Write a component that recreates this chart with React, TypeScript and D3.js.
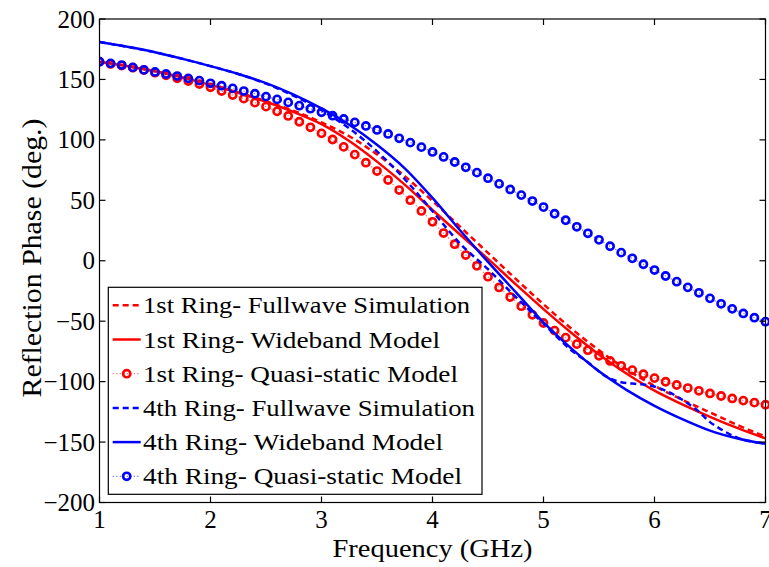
import React from "react";
import * as d3 from "d3";

// Frequency grids (GHz)
const freqLine = [1, 1.25, 1.5, 1.75, 2, 2.25, 2.5, 2.75, 3, 3.25, 3.5, 3.75, 4, 4.25, 4.5, 4.75, 5, 5.25, 5.5, 5.75, 6, 6.25, 6.5, 6.75, 7];
const freqFull4 = [1, 1.25, 1.5, 1.75, 2, 2.25, 2.5, 2.75, 3, 3.25, 3.5, 3.75, 4, 4.25, 4.5, 4.75, 5, 5.25, 5.4, 5.55, 5.7, 5.85, 5.95, 6.1, 6.25, 6.4, 6.5, 6.6, 6.75, 7];
const freqQuasi = [
  1.0, 1.1, 1.2, 1.3, 1.4, 1.5, 1.6, 1.7, 1.8, 1.9,
  2.0, 2.1, 2.2, 2.3, 2.4, 2.5, 2.6, 2.7, 2.8, 2.9,
  3.0, 3.1, 3.2, 3.3, 3.4, 3.5, 3.6, 3.7, 3.8, 3.9,
  4.0, 4.1, 4.2, 4.3, 4.4, 4.5, 4.6, 4.7, 4.8, 4.9,
  5.0, 5.1, 5.2, 5.3, 5.4, 5.5, 5.6, 5.7, 5.8, 5.9,
  6.0, 6.1, 6.2, 6.3, 6.4, 6.5, 6.6, 6.7, 6.8, 6.9, 7.0,
];

// Reflection phase (deg.)
const ring1Fullwave = [164.5, 161, 156.8, 151.5, 145.7, 139.3, 132, 124, 114.5, 103, 88, 70, 49.5, 28, 6.5, -15, -36, -56, -74, -90, -103.5, -115, -125.5, -136, -145.5];
const ring1Wideband = [164.7, 161, 156.8, 151.5, 145.5, 139, 131.5, 123, 113, 99, 82, 63, 42, 21.5, 1.5, -19.5, -40, -59.5, -77.5, -93.5, -107.5, -118.8, -129.1, -138.5, -147];
const ring1Quasi = [
  164.7, 162.8, 161.4, 159.7, 157.8, 155.6, 153.4, 150.9, 148.7, 146.2,
  143.5, 140.4, 137.1, 134.1, 130.8, 127.5, 123.6, 119.8, 115.0, 110.4,
  105.4, 100.3, 94.2, 87.8, 81.1, 74.2, 66.8, 58.5, 50.1, 41.2,
  32.2, 22.9, 13.7, 4.7, -4.2, -13.2, -22.1, -30.0, -37.6, -44.7,
  -51.5, -57.8, -63.6, -69.0, -74.0, -78.6, -82.9, -86.9, -90.5, -93.9,
  -97.1, -100.1, -102.8, -105.3, -107.6, -109.8, -111.9, -113.9, -115.7, -117.4, -119.1,
];
const ring4Fullwave = [181, 177, 172.5, 167, 161, 154.5, 146.5, 136.5, 124.5, 109.5, 90.5, 67.5, 41, 14, -7, -30, -52, -74, -84, -95, -100.5, -102, -103, -107.5, -115, -125, -133.5, -139.5, -146.5, -151];
const ring4Wideband = [181, 177, 172.5, 167, 161, 154.5, 147, 137.5, 126, 112.5, 96, 76.5, 52, 25, -1, -26, -51, -72.5, -91.5, -107, -120, -131, -140.5, -147, -151.5];
const ring4Quasi = [
  164.7, 163.3, 161.9, 160.0, 157.9, 156.2, 154.5, 152.8, 150.9, 149.0,
  146.8, 144.8, 142.6, 140.4, 138.2, 135.8, 133.5, 131.0, 128.3, 125.8,
  122.8, 120.0, 117.3, 114.5, 111.5, 108.2, 104.9, 101.3, 97.7, 94.0,
  90.0, 85.9, 81.7, 77.3, 72.9, 68.3, 63.6, 59.0, 54.3, 49.4,
  44.4, 38.9, 33.5, 28.1, 22.7, 17.3, 12.0, 6.7, 2.0, -2.9,
  -7.7, -12.6, -17.3, -22.0, -26.5, -31.1, -35.6, -39.8, -43.6, -47.1, -50.4,
];

const xTicks = [1, 2, 3, 4, 5, 6, 7];
const yTicks = [200, 150, 100, 50, 0, -50, -100, -150, -200];

const legendLabels = [
  "1st Ring- Fullwave Simulation",
  "1st Ring- Wideband Model",
  "1st Ring- Quasi-static Model",
  "4th Ring- Fullwave Simulation",
  "4th Ring- Wideband Model",
  "4th Ring- Quasi-static Model",
];
const legendWidths = [327, 297, 315, 332, 300, 319];

const RED = "#ff0000";
const BLUE = "#0000ff";
const FONT = '"Liberation Serif", "Times New Roman", Times, serif';

type Style = "dash" | "solid" | "marker";
interface Series {
  freq: number[];
  values: number[];
  color: string;
  style: Style;
}

const series: Series[] = [
  { freq: freqLine, values: ring1Fullwave, color: RED, style: "dash" },
  { freq: freqLine, values: ring1Wideband, color: RED, style: "solid" },
  { freq: freqQuasi, values: ring1Quasi, color: RED, style: "marker" },
  { freq: freqFull4, values: ring4Fullwave, color: BLUE, style: "dash" },
  { freq: freqLine, values: ring4Wideband, color: BLUE, style: "solid" },
  { freq: freqQuasi, values: ring4Quasi, color: BLUE, style: "marker" },
];

const W = 769;
const H = 567;
const plot = { left: 99.5, right: 765.5, top: 19, bottom: 502.5 };

const x = d3.scaleLinear().domain([1, 7]).range([plot.left, plot.right]);
const y = d3.scaleLinear().domain([-200, 200]).range([plot.bottom, plot.top]);
const fmt = d3.format("d");

const LW = 2.5;
const R = 3.6;
const TICK = 6;

function lineStroke(s: Series) {
  if (s.style === "dash") return { strokeWidth: LW, strokeDasharray: "6,4" };
  if (s.style === "solid") return { strokeWidth: LW };
  return { strokeWidth: 1.3, strokeDasharray: "1.3,2.2", strokeOpacity: 0.5 };
}

export default function App() {
  const lineGen = (s: Series) =>
    d3
      .line<number>()
      .x((_, i) => x(s.freq[i]))
      .y((v) => y(v))
      .curve(s.style === "marker" ? d3.curveLinear : d3.curveMonotoneX)(s.values) || "";

  const legend = { x0: 108.3, y0: 287.3, x1: 482, y1: 494.3 };
  const rowY = (i: number) => 305.3 + i * 34.2;

  return (
    <svg
      width={W}
      height={H}
      style={{ position: "absolute", left: 0, top: 0, background: "#fff", fontFamily: FONT }}
    >
      <rect x={0} y={0} width={W} height={H} fill="#fff" />
      <defs>
        <clipPath id="plot-area">
          <rect x={plot.left} y={plot.top - 6} width={plot.right - plot.left + 6} height={plot.bottom - plot.top + 6} />
        </clipPath>
      </defs>

      {/* data */}
      <g clipPath="url(#plot-area)">
        {series.map((s, k) => (
          <g key={k}>
            <path d={lineGen(s)} fill="none" stroke={s.color} {...lineStroke(s)} />
            {s.style === "marker" &&
              s.values.map((v, i) => (
                <circle key={i} cx={x(s.freq[i])} cy={y(v)} r={R} fill="none" stroke={s.color} strokeWidth={2.6} />
              ))}
          </g>
        ))}
      </g>

      {/* axes box and ticks */}
      <g stroke="#000" strokeWidth={1.2} fill="none">
        <rect x={plot.left} y={plot.top} width={plot.right - plot.left} height={plot.bottom - plot.top} />
        {xTicks.map((t) => (
          <g key={t}>
            <line x1={x(t)} x2={x(t)} y1={plot.bottom} y2={plot.bottom - TICK} />
            <line x1={x(t)} x2={x(t)} y1={plot.top} y2={plot.top + TICK} />
          </g>
        ))}
        {yTicks.map((t) => (
          <g key={t}>
            <line x1={plot.left} x2={plot.left + TICK} y1={y(t)} y2={y(t)} />
            <line x1={plot.right} x2={plot.right - TICK} y1={y(t)} y2={y(t)} />
          </g>
        ))}
      </g>

      {/* tick labels */}
      <g fontSize={25} fill="#000" style={{ fontFamily: FONT }}>
        {xTicks.map((t) => (
          <text key={t} x={x(t)} y={528} textAnchor="middle">
            {fmt(t)}
          </text>
        ))}
        {yTicks.map((t) => (
          <text key={t} x={95} y={y(t) + 8.5} textAnchor="end">
            {fmt(t)}
          </text>
        ))}
      </g>

      {/* axis titles */}
      <text
        x={432.5}
        y={557}
        fontSize={25}
        textAnchor="middle"
        textLength={200}
        lengthAdjust="spacingAndGlyphs"
        style={{ fontFamily: FONT }}
      >
        Frequency (GHz)
      </text>
      <text
        transform={`translate(41,258) rotate(-90)`}
        fontSize={27}
        textAnchor="middle"
        textLength={279}
        lengthAdjust="spacingAndGlyphs"
        style={{ fontFamily: FONT }}
      >
        Reflection Phase (deg.)
      </text>

      {/* legend */}
      <g>
        <rect
          x={legend.x0}
          y={legend.y0}
          width={legend.x1 - legend.x0}
          height={legend.y1 - legend.y0}
          fill="#fff"
          stroke="#000"
          strokeWidth={1.2}
        />
        {series.map((s, i) => {
          const cy = rowY(i);
          return (
            <g key={i}>
              <line x1={112.7} x2={140.7} y1={cy} y2={cy} stroke={s.color} {...lineStroke(s)} />
              {s.style === "marker" && <circle cx={126.7} cy={cy} r={R} fill="none" stroke={s.color} strokeWidth={2.6} />}
              <text
                x={143}
                y={cy + 8}
                fontSize={23.5}
                textLength={legendWidths[i]}
                lengthAdjust="spacingAndGlyphs"
                style={{ fontFamily: FONT }}
              >
                {legendLabels[i]}
              </text>
            </g>
          );
        })}
      </g>
    </svg>
  );
}
